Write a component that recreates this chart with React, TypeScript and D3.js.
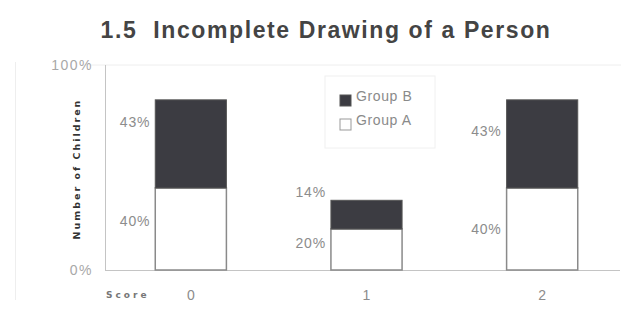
import { useEffect, useRef } from 'react'
import * as d3 from 'd3'

const scores = ['0', '1', '2']
const groupA = [40, 20, 40]
const groupB = [43, 14, 43]
// where the value labels sit, in percent units
const labelAtA = [24, 13, 20]
const labelAtB = [72, 38, 68]
const yTicks = [0, 100]
const legendItems = ['Group B', 'Group A']

export default function App() {
  const ref = useRef<SVGSVGElement>(null)

  useEffect(() => {
    if (!ref.current) return
    const width = 621
    const height = 316
    const margin = { top: 65, right: 0, bottom: 46, left: 105 }
    const font = "'Liberation Sans', Arial, sans-serif"

    const svg = d3.select(ref.current)
    svg.selectAll('*').remove()

    const x = d3.scaleBand().domain(scores).range([103, 630]).padding(0)
    const y = d3
      .scaleLinear()
      .domain([0, 100])
      .range([height - margin.bottom, margin.top])
    const barW = x.bandwidth() * 0.405
    const barX = (s: string) => (x(s) || 0) + x.bandwidth() / 2 - barW / 2

    // faint outer frame
    svg
      .append('line')
      .attr('x1', 15.5)
      .attr('x2', 15.5)
      .attr('y1', 62)
      .attr('y2', 300)
      .attr('stroke', '#eee')

    // title
    svg
      .append('text')
      .attr('x', 326)
      .attr('y', 38)
      .attr('text-anchor', 'middle')
      .attr('xml:space', 'preserve')
      .style('white-space', 'pre')
      .style('font-family', font)
      .style('font-size', '23px')
      .style('font-weight', 'bold')
      .style('letter-spacing', '1.6px')
      .style('fill', '#444')
      .text('1.5  Incomplete Drawing of a Person')

    // plot frame
    svg
      .append('line')
      .attr('x1', 90)
      .attr('x2', width)
      .attr('y1', y(100))
      .attr('y2', y(100))
      .attr('stroke', '#eee')
    svg
      .append('line')
      .attr('x1', margin.left + 0.5)
      .attr('x2', margin.left + 0.5)
      .attr('y1', y(100))
      .attr('y2', y(0))
      .attr('stroke', '#c4c4c4')
    svg
      .append('line')
      .attr('x1', margin.left)
      .attr('x2', 620)
      .attr('y1', y(0) + 0.5)
      .attr('y2', y(0) + 0.5)
      .attr('stroke', '#c4c4c4')

    // y ticks
    svg
      .append('g')
      .selectAll('text')
      .data(yTicks)
      .join('text')
      .attr('x', 93)
      .attr('y', (d) => y(d) + 5)
      .attr('text-anchor', 'end')
      .style('font-family', font)
      .style('font-size', '14px')
      .style('letter-spacing', '1.5px')
      .style('fill', '#a8a8a8')
      .text((d) => `${d}%`)

    // y axis title
    svg
      .append('text')
      .attr('transform', `translate(80,${169}) rotate(-90)`)
      .attr('text-anchor', 'middle')
      .style('font-family', "'DejaVu Sans', sans-serif")
      .style('font-size', '9.5px')
      .style('font-weight', 'bold')
      .style('letter-spacing', '2px')
      .style('fill', '#333')
      .text('Number of Children')

    // bars
    const bars = svg.append('g')
    bars
      .selectAll('rect.a')
      .data(scores)
      .join('rect')
      .attr('class', 'a')
      .attr('x', (d) => barX(d))
      .attr('y', (_, i) => y(groupA[i]))
      .attr('width', barW)
      .attr('height', (_, i) => y(0) - y(groupA[i]))
      .attr('fill', '#fff')
      .attr('stroke', '#8a8a8a')
      .attr('stroke-width', 1.5)
    bars
      .selectAll('rect.b')
      .data(scores)
      .join('rect')
      .attr('class', 'b')
      .attr('x', (d) => barX(d))
      .attr('y', (_, i) => y(groupA[i] + groupB[i]))
      .attr('width', barW)
      .attr('height', (_, i) => y(groupA[i]) - y(groupA[i] + groupB[i]))
      .attr('fill', '#3c3c42')
      .attr('stroke', '#555')
      .attr('stroke-width', 1)

    // value labels
    const labels = svg
      .append('g')
      .style('font-family', font)
      .style('font-size', '14px')
      .style('letter-spacing', '0.8px')
      .style('fill', '#8c8c8c')
      .attr('text-anchor', 'end')
    labels
      .selectAll('text.a')
      .data(scores)
      .join('text')
      .attr('class', 'a')
      .attr('x', (d) => barX(d) - 5)
      .attr('y', (_, i) => y(labelAtA[i]) + 5)
      .text((_, i) => `${groupA[i]}%`)
    labels
      .selectAll('text.b')
      .data(scores)
      .join('text')
      .attr('class', 'b')
      .attr('x', (d) => barX(d) - 5)
      .attr('y', (_, i) => y(labelAtB[i]) + 5)
      .text((_, i) => `${groupB[i]}%`)

    // x ticks
    svg
      .append('g')
      .selectAll('text')
      .data(scores)
      .join('text')
      .attr('x', (d) => (x(d) || 0) + x.bandwidth() / 2)
      .attr('y', 300)
      .attr('text-anchor', 'middle')
      .style('font-family', font)
      .style('font-size', '14px')
      .style('fill', '#8c8c8c')
      .text((d) => d)
    svg
      .append('text')
      .attr('x', 106)
      .attr('y', 298)
      .style('font-family', "'DejaVu Sans', sans-serif")
      .style('font-size', '9px')
      .style('font-weight', 'bold')
      .style('letter-spacing', '3px')
      .style('fill', '#777')
      .text('Score')

    // legend
    const legend = svg.append('g').attr('transform', 'translate(325,76)')
    legend
      .append('rect')
      .attr('width', 110)
      .attr('height', 72)
      .attr('fill', '#fff')
      .attr('stroke', '#f0f0f0')
    const item = legend
      .selectAll('g')
      .data(legendItems)
      .join('g')
      .attr('transform', (_, i) => `translate(15,${19 + i * 24})`)
    item
      .append('rect')
      .attr('width', 11)
      .attr('height', 11)
      .attr('fill', (d) => (d === 'Group B' ? '#3c3c42' : '#fff'))
      .attr('stroke', (d) => (d === 'Group B' ? '#555' : '#999'))
    item
      .append('text')
      .attr('x', 16)
      .attr('y', 6)
      .style('font-family', font)
      .style('font-size', '14px')
      .style('letter-spacing', '0.6px')
      .style('fill', '#8a8a8a')
      .text((d) => d)
  }, [])

  return (
    <svg
      ref={ref}
      width={621}
      height={316}
      style={{ position: 'absolute', left: 0, top: 0, background: '#fff' }}
    />
  )
}
